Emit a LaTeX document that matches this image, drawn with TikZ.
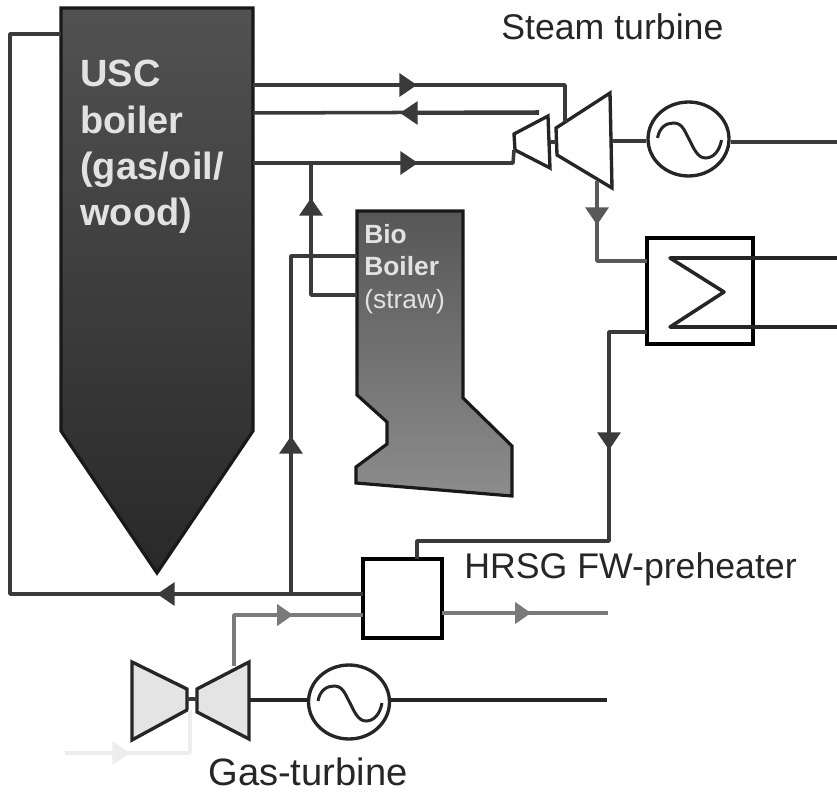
\documentclass[tikz,border=0pt]{standalone}
\usepackage{fontspec}
\setmainfont{Liberation Sans}
\usetikzlibrary{positioning,shapes.geometric,arrows.meta}
\definecolor{pipedark}{HTML}{3A3A3A}
\definecolor{pipegray}{HTML}{7A7A7A}
\definecolor{casing}{HTML}{E4E4E4}
\definecolor{faint}{HTML}{EDEDED}
\definecolor{boilertext}{HTML}{E2E2E2}
\tikzset{
  pipe/.style={line width=2pt, draw=pipedark, line join=round},
  graypipe/.style={pipe, draw=pipegray},
  tipped/.style={-{Triangle[length=10pt,width=13pt]}},
  smalltip/.style={-{Triangle[length=9pt,width=12pt]}},
  hxbox/.style={draw=black, line width=2.4pt, fill=white, inner sep=0pt, minimum size=#1},
  gen/.style={ellipse, draw=black!85, line width=1.9pt, inner sep=0pt, minimum width=1.62cm, minimum height=1.48cm},
  turbine/.style={draw=black!85, line width=1.9pt, line join=miter},
  boiler/.style={draw=black!90, line width=1.8pt, line join=miter},
  caption/.style={font=\fontsize{20.3}{24}\selectfont, text=black!85, inner sep=0pt},
  sinewave/.pic={
    \draw[line width=1.7pt, black!85] (-31,-1) .. controls (-29,-12) and (-22,-16) .. (-15,-16)
      .. controls (-6,-16) and (-4,-8) .. (1,1) .. controls (5,9) and (9,19) .. (17,19)
      .. controls (25,19) and (31,12) .. (33,1);
  },
}
\begin{document}
\begin{tikzpicture}[x=0.02cm, y=-0.02cm]
    \useasboundingbox (0,0) rectangle (837,793);

    \draw[boiler, top color=black!68, bottom color=black!84]
      (61,8) -- (253,8) -- (253,431) -- (157,573) -- (61,431) -- cycle;
    \draw[boiler, top color=black!66, bottom color=black!45]
      (357,211) -- (463,211) -- (463,398) -- (512,446) -- (512,496) -- (356,483)
      -- (356,467) -- (387,444) -- (387,422) -- (357,395) -- cycle;
    \node[anchor=north west, align=left, inner sep=0pt, text=boilertext,
      font=\fontsize{21.6}{26.3}\selectfont\bfseries] (uscboiler) at (80,60)
      {USC\\boiler\\(gas/oil/\\wood)};
    \node[anchor=north west, align=left, inner sep=0pt, text=boilertext,
      font=\fontsize{15}{18.5}\selectfont] (bioboiler) at (364,224)
      {\textbf{Bio}\\\textbf{Boiler}\\(straw)};

    \coordinate (uscA) at (253,85);
    \coordinate (uscB) at (253,113);
    \coordinate (uscC) at (253,163);
    \coordinate (uscD) at (61,34);
    \coordinate (bioA) at (357,256);
    \coordinate (bioB) at (357,295);

    \draw[turbine, fill=white] (514,134) -- (548,116) -- (550,168) -- (515,150) -- cycle;
    \draw[turbine, fill=white] (556,128) -- (610,93) -- (612,188) -- (557,155) -- cycle;
    \draw[turbine, fill=casing] (132,662) -- (187,689) -- (187,710) -- (132,740) -- cycle;
    \draw[turbine, fill=casing] (197,689) -- (249,662) -- (249,739) -- (197,712) -- cycle;

    \coordinate (hpIn) at (514,150);
    \coordinate (hpOut) at (539,112);
    \coordinate (hpShaft) at (550,142);
    \coordinate (lpShaft) at (556,142);
    \coordinate (lpIn) at (565,122);
    \coordinate (lpOut) at (597,181);
    \coordinate (lpGen) at (612,141);
    \coordinate (gtShaftA) at (187,699);
    \coordinate (gtShaftB) at (197,699);
    \coordinate (gtGen) at (249,700);
    \coordinate (gtOut) at (234,666);

    \node[gen] (steamgen) at (688.5,139) {};
    \node[gen] (gasgen) at (349,702) {};
    \pic at (steamgen) {sinewave};
    \pic at (gasgen) {sinewave};

    \node[hxbox=2.12cm] (condenser) at (700,291) {};
    \node[hxbox=1.58cm] (hrsg) at (402.5,598.5) {};

    \coordinate (condIn) at (647,261);
    \coordinate (condOut) at (647,332);
    \coordinate (coilTop) at (670,258);
    \coordinate (coilMid) at (724,292);
    \coordinate (coilBot) at (670,327);
    \coordinate (districtA) at (837,258);
    \coordinate (districtB) at (837,327);
    \coordinate (gridA) at (837,142);
    \coordinate (gridB) at (607,700);
    \coordinate (hrsgTop) at (417,559);
    \coordinate (hrsgWest) at (363,594);
    \coordinate (hrsgGas) at (363,615);
    \coordinate (hrsgEast) at (442,613);
    \coordinate (stack) at (608,613);

    \draw[pipe] (uscA) -- (565,85) -- (lpIn);
    \draw[pipe, tipped] (uscA) -- (417,85);
    \draw[pipe] (hpOut) -- (uscB);
    \draw[pipe, tipped] (539,113) -- (400,113);
    \draw[pipe] (uscC) -- (513,163) -- (hpIn);
    \draw[pipe, tipped] (uscC) -- (418,163);
    \draw[pipe] (bioB) -- (311,295) -- (311,163);
    \draw[pipe, tipped] (311,295) -- (311,198);
    \draw[pipe] (hrsgWest) -- (291,594) -- (291,256) -- (bioA);
    \draw[pipe, tipped] (291,594) -- (291,436);
    \draw[pipe] (hrsgWest) -- (10,594) -- (10,34) -- (uscD);
    \draw[pipe, tipped] (hrsgWest) -- (157,594);
    \draw[pipe] (hpShaft) -- (lpShaft);
    \draw[pipe] (lpGen) -- (steamgen.west |- lpGen);
    \draw[pipe] (steamgen.east |- gridA) -- (gridA);
    \draw[graypipe, draw=black!65] (lpOut) -- (597,261) -- (condIn);
    \draw[graypipe, draw=black!65, tipped] (lpOut) -- (597,225);
    \draw[pipe, black!85] (districtA) -- (coilTop) -- (coilMid) -- (coilBot) -- (districtB);
    \draw[pipe] (condOut) -- (609,332) -- (609,541) -- (417,541) -- (hrsgTop);
    \draw[pipe, tipped] (609,332) -- (609,450);
    \draw[graypipe] (gtOut) -- (234,615) -- (hrsgGas);
    \draw[graypipe, smalltip] (234,615) -- (293,615);
    \draw[graypipe] (hrsgEast) -- (stack);
    \draw[graypipe, smalltip] (hrsgEast) -- (531,613);
    \draw[pipe] (gtShaftA) -- (gtShaftB);
    \draw[pipe, black!85] (gtGen) -- (gasgen.west |- gtGen);
    \draw[pipe, black!85] (gasgen.east |- gridB) -- (gridB);

    \coordinate (airIn) at (65,753);
    \coordinate (airTurn) at (190,753);
    \coordinate (gtAir) at (190,710);
    \draw[pipe, draw=faint] (airIn) -- (airTurn) -- (gtAir);
    \draw[pipe, draw=faint, tipped] (airIn) -- (130,753);

    \node[caption, anchor=base west] (steamlabel) at (501,40) {Steam turbine};
    \node[caption, anchor=base west] (hrsglabel) at (464,578) {HRSG FW-preheater};
    \node[caption, anchor=base west, font=\fontsize{21.7}{24}\selectfont] (gaslabel) at (208,785) {Gas-turbine};
  \end{tikzpicture}
\end{document}
